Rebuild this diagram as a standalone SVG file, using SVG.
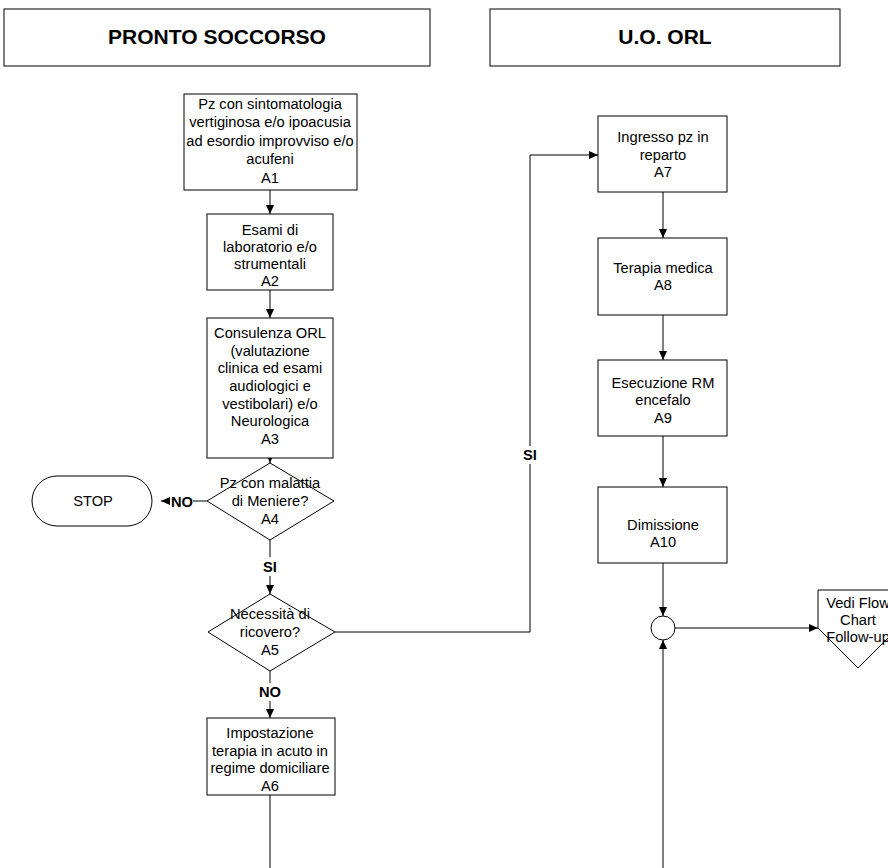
<svg xmlns="http://www.w3.org/2000/svg" width="888" height="868" viewBox="0 0 888 868">
<defs>
<marker id="arr" markerWidth="10" markerHeight="10" refX="9" refY="5" orient="auto" markerUnits="userSpaceOnUse">
<path d="M0,1 L9,5 L0,9 Z" fill="#000"/>
</marker>
<style>
.box{fill:#fff;stroke:#000;stroke-width:1}
.t{font-family:"Liberation Sans",Arial,sans-serif;font-size:14.7px;fill:#000;text-anchor:middle}
.h{font-family:"Liberation Sans",Arial,sans-serif;font-size:21px;font-weight:bold;fill:#000;text-anchor:middle}
.lb{font-family:"Liberation Sans",Arial,sans-serif;font-size:14.7px;font-weight:bold;fill:#000;text-anchor:middle}
.ln{fill:none;stroke:#000;stroke-width:1}
</style>
</defs>
<rect width="888" height="868" fill="#fff"/>
<g id="hdr-ps">
<rect class="box" x="4" y="9" width="426" height="57"/>
<text class="h" x="217" y="44">PRONTO SOCCORSO</text>
</g>
<g id="hdr-orl">
<rect class="box" x="490" y="9" width="350" height="57"/>
<text class="h" x="665" y="44">U.O. ORL</text>
</g>
<g id="connectors">
<line class="ln" x1="270" y1="190" x2="270" y2="214" marker-end="url(#arr)"/>
<line class="ln" x1="270" y1="290" x2="270" y2="318" marker-end="url(#arr)"/>
<line class="ln" x1="270" y1="458" x2="270" y2="463" marker-end="url(#arr)"/>
<line class="ln" x1="207" y1="501" x2="193" y2="501"/>
<line class="ln" x1="170" y1="501" x2="161" y2="501" marker-end="url(#arr)"/>
<line class="ln" x1="270" y1="540" x2="270" y2="557"/>
<line class="ln" x1="270" y1="576" x2="270" y2="594" marker-end="url(#arr)"/>
<polyline class="ln" points="335,632 530,632 530,155 598,155" marker-end="url(#arr)"/>
<line class="ln" x1="270" y1="671" x2="270" y2="683"/>
<line class="ln" x1="270" y1="701" x2="270" y2="718" marker-end="url(#arr)"/>
<line class="ln" x1="270" y1="795" x2="270" y2="868"/>
<line class="ln" x1="663" y1="192" x2="663" y2="238" marker-end="url(#arr)"/>
<line class="ln" x1="663" y1="315" x2="663" y2="360" marker-end="url(#arr)"/>
<line class="ln" x1="663" y1="436" x2="663" y2="487" marker-end="url(#arr)"/>
<line class="ln" x1="663" y1="563" x2="663" y2="616" marker-end="url(#arr)"/>
<line class="ln" x1="663" y1="868" x2="663" y2="640" marker-end="url(#arr)"/>
<line class="ln" x1="675" y1="628" x2="818" y2="628" marker-end="url(#arr)"/>
<rect x="521" y="446" width="19" height="18" fill="#fff"/>
<text class="lb" x="530" y="460">SI</text>
<text class="lb" x="182" y="507">NO</text>
<text class="lb" x="270" y="572">SI</text>
<text class="lb" x="270" y="697">NO</text>
</g>
<g id="A1">
<rect class="box" x="184" y="94" width="173" height="96"/>
<text class="t" x="270" y="109">Pz con sintomatologia</text>
<text class="t" x="270" y="127">vertiginosa e/o ipoacusia</text>
<text class="t" x="270" y="146">ad esordio improvviso e/o</text>
<text class="t" x="270" y="164">acufeni</text>
<text class="t" x="270" y="183">A1</text>
</g>
<g id="A2">
<rect class="box" x="207" y="214" width="126" height="76"/>
<text class="t" x="270" y="235">Esami di</text>
<text class="t" x="270" y="252">laboratorio e/o</text>
<text class="t" x="270" y="269">strumentali</text>
<text class="t" x="270" y="286">A2</text>
</g>
<g id="A3">
<rect class="box" x="207" y="318" width="126" height="140"/>
<text class="t" x="270" y="338">Consulenza ORL</text>
<text class="t" x="270" y="356">(valutazione</text>
<text class="t" x="270" y="373">clinica ed esami</text>
<text class="t" x="270" y="391">audiologici e</text>
<text class="t" x="270" y="409">vestibolari)  e/o</text>
<text class="t" x="270" y="426">Neurologica</text>
<text class="t" x="270" y="444">A3</text>
</g>
<g id="A4">
<polygon class="box" points="270,463 334,501 270,540 207,501"/>
<text class="t" x="270" y="488">Pz con malattia</text>
<text class="t" x="270" y="506">di Meniere?</text>
<text class="t" x="270" y="524">A4</text>
</g>
<g id="STOP">
<rect class="box" x="32" y="476" width="120" height="50" rx="25" ry="25"/>
<text class="t" x="93" y="506">STOP</text>
</g>
<g id="A5">
<polygon class="box" points="270,594 335,632 270,671 208,632"/>
<text class="t" x="270" y="619">Necessità di</text>
<text class="t" x="270" y="637">ricovero?</text>
<text class="t" x="270" y="655">A5</text>
</g>
<g id="A6">
<rect class="box" x="207" y="718" width="128" height="77"/>
<text class="t" x="270" y="738">Impostazione</text>
<text class="t" x="270" y="756">terapia in acuto in</text>
<text class="t" x="270" y="773">regime domiciliare</text>
<text class="t" x="270" y="791">A6</text>
</g>
<g id="A7">
<rect class="box" x="598" y="116" width="129" height="76"/>
<text class="t" x="663" y="142">Ingresso pz in</text>
<text class="t" x="663" y="160">reparto</text>
<text class="t" x="663" y="177">A7</text>
</g>
<g id="A8">
<rect class="box" x="598" y="238" width="129" height="77"/>
<text class="t" x="663" y="273">Terapia medica</text>
<text class="t" x="663" y="290">A8</text>
</g>
<g id="A9">
<rect class="box" x="598" y="360" width="129" height="76"/>
<text class="t" x="663" y="388">Esecuzione RM</text>
<text class="t" x="663" y="405">encefalo</text>
<text class="t" x="663" y="423">A9</text>
</g>
<g id="A10">
<rect class="box" x="598" y="487" width="129" height="76"/>
<text class="t" x="663" y="530">Dimissione</text>
<text class="t" x="663" y="547">A10</text>
</g>
<g id="junction">
<circle class="box" cx="663" cy="628" r="12"/>
</g>
<g id="offpage">
<polygon class="box" points="818,590 898,590 898,628 858,668 818,628"/>
<text class="t" x="858" y="608">Vedi Flow</text>
<text class="t" x="858" y="625">Chart</text>
<text class="t" x="858" y="642">Follow-up</text>
</g>
</svg>
